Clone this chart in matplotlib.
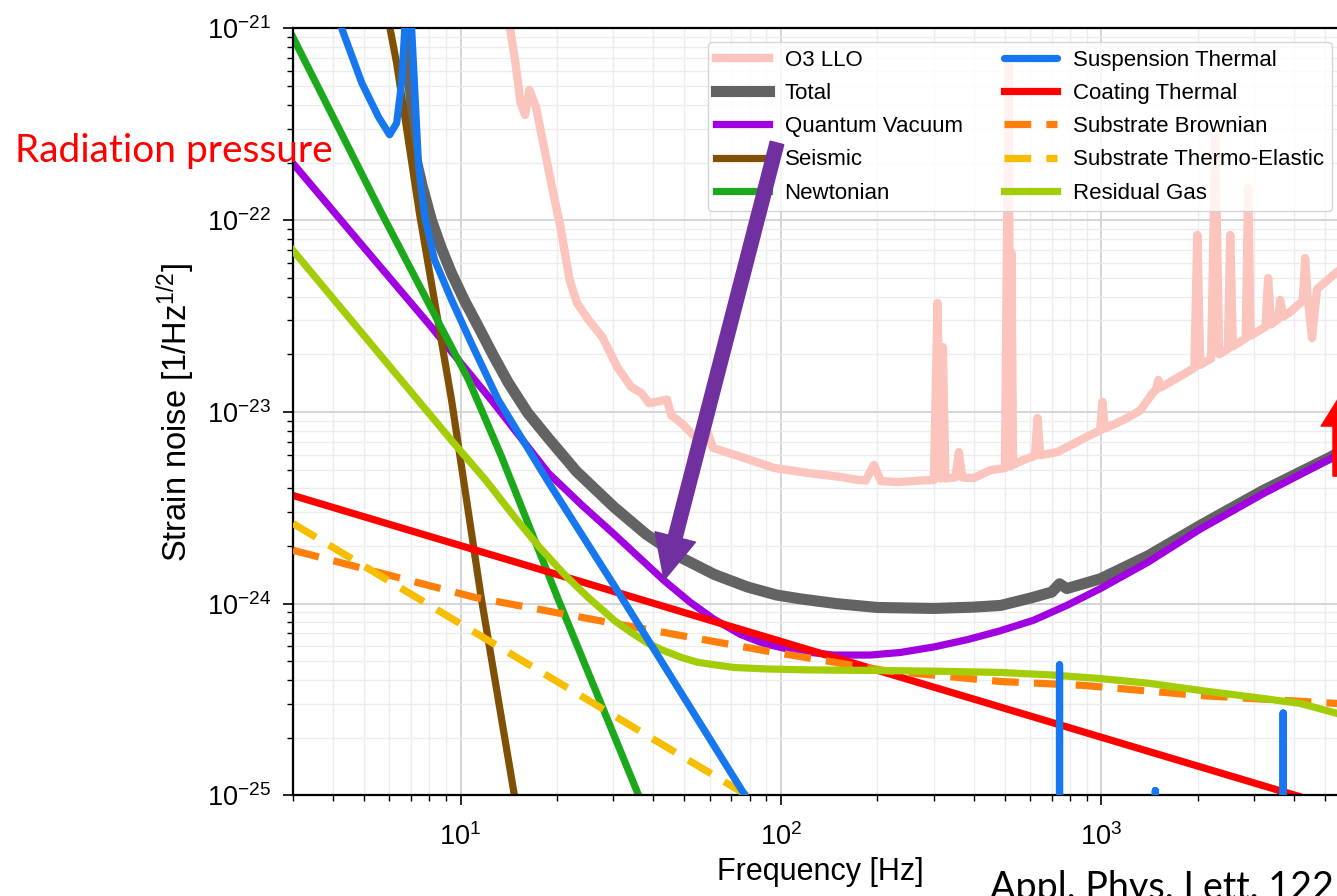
import matplotlib.pyplot as plt
from matplotlib.patches import FancyArrowPatch

plt.rcParams['font.family'] = ['Liberation Sans', 'DejaVu Sans']
plt.rcParams['mathtext.fontset'] = 'custom'
plt.rcParams['mathtext.rm'] = 'Liberation Sans'
plt.rcParams['mathtext.it'] = 'Liberation Sans:italic'
plt.rcParams['mathtext.bf'] = 'Liberation Sans:bold'
plt.rcParams['mathtext.default'] = 'regular'

# measured O3 LLO strain noise
o3_f = [13.9, 14.3, 14.8, 15.4, 15.9, 16.4, 17.2, 19.3, 20.5, 21.9, 23.1, 25.1, 27.7,
        30.8, 34.1, 36.6, 38.8, 44.1, 45.4, 48.8, 54.0, 58.4, 61.4, 75.1, 95.1, 121,
        154, 174, 184, 195, 205, 231, 279, 300, 308, 314, 320, 326, 350, 359, 368,
        399, 451, 500, 513, 520, 524, 530, 571, 620, 632, 644, 729, 924, 990, 1007,
        1025, 1171, 1323, 1452, 1480, 1505, 1530, 1801, 1950, 1991, 2034, 2200, 2265,
        2330, 2480, 2523, 2570, 2820, 2870, 2920, 3250, 3313, 3380, 3560, 3611, 3700,
        3880, 4250, 4321, 4400, 4543, 4709, 5434, 7000]
o3_h = [1.2e-21, 9.8e-22, 6.86e-22, 4.09e-22, 3.54e-22, 4.78e-22, 3.9e-22, 1.49e-22,
        9.23e-23, 4.88e-23, 3.7e-23, 3.02e-23, 2.46e-23, 1.72e-23, 1.35e-23, 1.26e-23,
        1.11e-23, 1.16e-23, 9.64e-24, 8.77e-24, 7.41e-24, 8.25e-24, 6.49e-24, 5.83e-24,
        5.11e-24, 4.81e-24, 4.58e-24, 4.42e-24, 4.4e-24, 5.3e-24, 4.36e-24, 4.31e-24,
        4.4e-24, 4.42e-24, 3.7e-23, 4.5e-24, 2.18e-23, 4.5e-24, 4.55e-24, 6.18e-24,
        4.55e-24, 4.52e-24, 4.98e-24, 5.1e-24, 6.6e-22, 5.2e-24, 6.75e-23, 5.3e-24,
        5.62e-24, 5.9e-24, 9.3e-24, 5.95e-24, 6.18e-24, 7.59e-24, 8.0e-24, 1.13e-23,
        8.2e-24, 9.08e-24, 1.02e-23, 1.27e-23, 1.3e-23, 1.47e-23, 1.34e-23, 1.57e-23,
        1.7e-23, 8.38e-23, 1.76e-23, 1.9e-23, 2.79e-22, 2.0e-23, 2.13e-23, 8.38e-23,
        2.2e-23, 2.42e-23, 1.47e-22, 2.5e-23, 2.78e-23, 5.0e-23, 2.86e-23, 3.05e-23,
        3.84e-23, 3.15e-23, 3.32e-23, 3.8e-23, 6.35e-23, 3.95e-23, 2.43e-23, 4.38e-23,
        5.37e-23, 7.2e-23]

tot_f = [6.6, 7.0, 7.19, 7.6, 8.12, 8.7, 9.38, 10.3, 11.4, 12.7, 14.1, 16.2, 18.8, 23,
         30.2, 38, 48.8, 62, 78.9, 97, 115, 150, 200, 300, 400, 485, 600, 700, 740, 780,
         993, 1400, 2034, 3200, 5168, 10000]
tot_h = [2.5e-21, 4.5e-22, 2.23e-22, 1.5e-22, 9.97e-23, 7.2e-23, 5.28e-23, 3.8e-23,
         2.76e-23, 1.95e-23, 1.42e-23, 9.9e-24, 7.3e-24, 4.9e-24, 3.18e-24, 2.3e-24,
         1.74e-24, 1.42e-24, 1.22e-24, 1.11e-24, 1.06e-24, 1.0e-24, 9.56e-25, 9.45e-25,
         9.6e-25, 9.8e-25, 1.07e-24, 1.15e-24, 1.27e-24, 1.2e-24, 1.35e-24, 1.78e-24,
         2.56e-24, 3.9e-24, 5.8e-24, 1.07e-23]

qv_f = [3, 5, 8, 12.5, 18.8, 24, 30.2, 36, 43.2, 52, 61.8, 75, 88.5, 110, 146, 190, 236,
        300, 382, 480, 614, 780, 993, 1400, 2034, 3200, 5168, 10000]
qv_h = [1.98e-22, 7.2e-23, 2.85e-23, 1.15e-23, 4.8e-24, 3.25e-24, 2.3e-24, 1.75e-24,
        1.32e-24, 1.02e-24, 8.3e-25, 6.9e-25, 6.2e-25, 5.7e-25, 5.4e-25, 5.4e-25,
        5.57e-25, 5.95e-25, 6.5e-25, 7.2e-25, 8.2e-25, 9.8e-25, 1.2e-24, 1.65e-24,
        2.45e-24, 3.75e-24, 5.69e-24, 1.05e-23]

seis_f = [5.8, 6.32, 7.45, 9.38, 11.6, 14.7, 17]
seis_h = [1.4e-21, 6.6e-22, 1.08e-22, 1.15e-23, 1.08e-24, 1.02e-25, 2.5e-26]

newt_f = [3, 5.67, 10.6, 13.4, 20.2, 35.8, 45]
newt_h = [9.0e-22, 1.09e-22, 1.47e-23, 5.9e-24, 1.05e-24, 1.02e-25, 4.0e-26]

susp_f = [4.0, 4.26, 4.92, 5.55, 6.01, 6.32, 6.55, 6.69, 6.85, 7.04, 7.4, 7.73, 8.3,
          9.38, 10.8, 13.1, 18.8, 30.2, 76.7, 100, 740, 740, 740, 1473, 1473, 1473,
          3690, 3690, 3690, 10000]
susp_h = [1.35e-21, 1.0e-21, 5.2e-22, 3.45e-22, 2.79e-22, 3.21e-22, 5.2e-22, 9.5e-22,
          3e-21, 1.0e-21, 1.9e-22, 1.04e-22, 6.21e-23, 3.84e-23, 2.29e-23, 1.16e-23,
          4.31e-24, 1.24e-24, 1.02e-25, 5e-26, 5e-26, 4.8e-25, 5e-26, 5e-26, 1.06e-25,
          5e-26, 5e-26, 2.69e-25, 5e-26, 5e-26]

coat_f = [3, 10000]
coat_h = [3.67e-24, 6.36e-26]

sbrown_f = [3, 11.06, 30.2, 88.5, 209, 485, 879, 2034, 5434, 10000]
sbrown_h = [1.9e-24, 1.08e-24, 7.89e-25, 5.7e-25, 4.49e-25, 3.93e-25, 3.75e-25,
            3.32e-25, 3.02e-25, 2.9e-25]

ste_f = [3, 100]
ste_h = [2.62e-24, 7.86e-26]

gas_f = [3, 9.38, 12, 14.7, 17.5, 21.1, 25, 30.2, 34, 38.5, 43, 48.8, 55, 62, 71.4, 90,
         120, 187, 300, 485, 700, 993, 1400, 2034, 3000, 4169, 5434, 10000]
gas_h = [6.96e-23, 7.1e-24, 4.4e-24, 2.85e-24, 2.0e-24, 1.42e-24, 1.08e-24, 8.18e-25,
         7.1e-25, 6.21e-25, 5.7e-25, 5.25e-25, 4.95e-25, 4.8e-25, 4.65e-25, 4.57e-25,
         4.52e-25, 4.49e-25, 4.45e-25, 4.38e-25, 4.25e-25, 4.07e-25, 3.85e-25, 3.53e-25,
         3.25e-25, 3.02e-25, 2.68e-25, 2.0e-25]

fig = plt.figure(figsize=(13.37, 8.96), dpi=100)
ax = fig.add_axes([0.2191, 0.1122, 0.8444, 0.856])

lw = 5.2
h_o3, = ax.plot(o3_f, o3_h, color='#fbc4bc', lw=6, label='O3 LLO', zorder=2)
h_tot, = ax.plot(tot_f, tot_h, color='#636363', lw=8, label='Total', zorder=2.1)
h_qv, = ax.plot(qv_f, qv_h, color='#a100e0', lw=lw, label='Quantum Vacuum', zorder=2.2)
h_seis, = ax.plot(seis_f, seis_h, color='#7f5005', lw=lw, label='Seismic', zorder=2.3)
h_newt, = ax.plot(newt_f, newt_h, color='#1ba81b', lw=lw, label='Newtonian', zorder=2.4)
h_coat, = ax.plot(coat_f, coat_h, color='#ff0000', lw=lw, label='Coating Thermal', zorder=2.5)
h_sb, = ax.plot(sbrown_f, sbrown_h, color='#ff7f0a', lw=lw, ls=(0, (3.7, 2.1)),
                label='Substrate Brownian', zorder=2.6)
h_ste, = ax.plot(ste_f, ste_h, color='#f7bd00', lw=lw, ls=(0, (3.7, 2.1)),
                 label='Substrate Thermo-Elastic', zorder=2.7)
h_gas, = ax.plot(gas_f, gas_h, color='#a3cd08', lw=lw, label='Residual Gas', zorder=2.8)
h_susp, = ax.plot(susp_f, susp_h, color='#1777ee', lw=lw, label='Suspension Thermal',
                  solid_joinstyle='round', solid_capstyle='round', zorder=2.9)

ax.set_xscale('log')
ax.set_yscale('log')
ax.set_xlim(3, 1e4)
ax.set_ylim(1e-25, 1e-21)
ax.set_xticks([1e1, 1e2, 1e3])

ax.grid(True, which='major', color='#d2d2d2', lw=1.3)
ax.grid(True, which='minor', color='#ececec', lw=1.0)
ax.set_axisbelow(True)

for s in ax.spines.values():
    s.set_linewidth(1.6)
ax.tick_params(which='major', length=7, width=1.2, labelsize=19.5)
ax.tick_params(which='minor', length=4.3, width=1.0)
ax.tick_params(axis='y', which='major', pad=9)
ax.tick_params(axis='x', which='major', pad=13)

ax.set_xlabel('Frequency [Hz]', fontsize=22)
ax.set_ylabel('Strain noise [1/Hz$^{1/2}$]', fontsize=23.5)
ax.xaxis.set_label_coords(0.4668, -0.08)
ax.yaxis.set_label_coords(-0.085, 0.5)

handles = [h_o3, h_tot, h_qv, h_seis, h_newt, h_susp, h_coat, h_sb, h_ste, h_gas]
ax.legend(handles=handles, ncol=2, loc='upper left', bbox_to_anchor=(0.3676, 0.9824),
          borderaxespad=0, fontsize=16, handlelength=2.4, handletextpad=0.7,
          labelspacing=0.55, columnspacing=1.85, borderpad=0.35)

# annotations (drawn over the legend, as in the slide)
purple_arrow = FancyArrowPatch((97.2, 2.53e-22), (43.2, 1.33e-24),
                               arrowstyle='simple,head_length=3.2,head_width=3.0,tail_width=1.0',
                               mutation_scale=10, color='#7030a0', shrinkA=0, shrinkB=0,
                               transform=ax.transData, zorder=6)
ax.add_patch(purple_arrow)
red_arrow = FancyArrowPatch((5633, 4.63e-24), (5633, 1.26e-23),
                            arrowstyle='simple,head_length=2.4,head_width=3.0,tail_width=1.3',
                            mutation_scale=10, color='#ff0000', shrinkA=0, shrinkB=0,
                            transform=ax.transData, zorder=6)
ax.add_patch(red_arrow)

fig.text(15 / 1337, 1 - 162 / 896, 'Radiation pressure', color='red', fontsize=28,
         family='Lato', va='baseline', ha='left')
fig.text(990 / 1337, 1 - 899 / 896, 'Appl. Phys. Lett. 122', color='black', fontsize=27.2,
         family='Lato', va='baseline', ha='left')

fig.savefig('out.png', dpi=100)
